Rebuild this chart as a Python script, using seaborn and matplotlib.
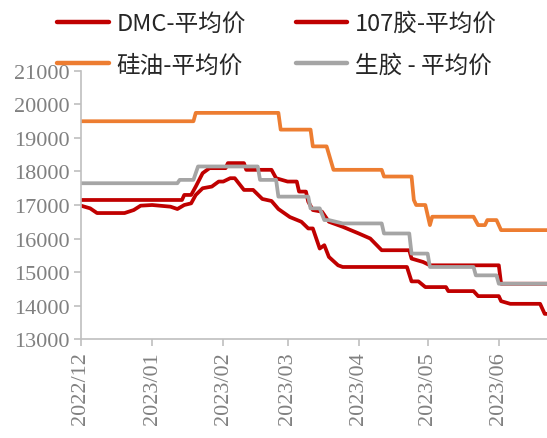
import matplotlib
matplotlib.use("Agg")
import matplotlib.pyplot as plt
import pandas as pd
import seaborn as sns

# ---- data ----
dmc_dates = ["2022-12-01", "2022-12-05", "2022-12-08", "2022-12-20", "2022-12-24", "2022-12-27",
             "2023-01-01", "2023-01-09", "2023-01-12", "2023-01-15", "2023-01-18", "2023-01-20",
             "2023-01-23", "2023-01-27", "2023-01-30", "2023-02-01", "2023-02-04", "2023-02-06",
             "2023-02-10", "2023-02-14", "2023-02-18", "2023-02-22", "2023-02-25", "2023-03-02",
             "2023-03-07", "2023-03-10", "2023-03-12", "2023-03-14", "2023-03-15", "2023-03-17",
             "2023-03-19", "2023-03-23", "2023-03-25", "2023-04-22", "2023-04-24", "2023-04-27",
             "2023-04-30", "2023-05-09", "2023-05-10", "2023-05-21", "2023-05-23", "2023-06-01",
             "2023-06-02", "2023-06-06", "2023-06-19", "2023-06-21", "2023-06-22"]
dmc_vals = [16980, 16900, 16760, 16760, 16850, 16980,
            17000, 16950, 16880, 17000, 17050, 17300,
            17500, 17550, 17700, 17700, 17800, 17800,
            17450, 17450, 17180, 17120, 16880, 16640,
            16500, 16300, 16300, 15900, 15700, 15800,
            15450, 15200, 15150, 15150, 14720, 14720,
            14550, 14550, 14430, 14430, 14280, 14280,
            14130, 14050, 14050, 13750, 13750]

g107_dates = ["2022-12-01", "2023-01-14", "2023-01-15", "2023-01-18", "2023-01-20", "2023-01-23",
              "2023-01-26", "2023-02-02", "2023-02-03", "2023-02-10", "2023-02-11", "2023-02-22",
              "2023-02-24", "2023-03-01", "2023-03-05", "2023-03-06", "2023-03-09", "2023-03-10",
              "2023-03-12", "2023-03-16", "2023-03-19", "2023-03-25", "2023-04-01", "2023-04-06",
              "2023-04-11", "2023-04-23", "2023-04-24", "2023-04-29", "2023-05-02", "2023-06-01",
              "2023-06-02", "2023-06-22"]
g107_vals = [17150, 17150, 17300, 17300, 17550, 17950,
             18100, 18100, 18250, 18250, 18050, 18050,
             17800, 17700, 17700, 17400, 17400, 17100,
             16850, 16800, 16500, 16350, 16150, 16000,
             15650, 15650, 15400, 15300, 15200, 15200,
             14650, 14650]

oil_dates = ["2022-12-01", "2023-01-19", "2023-01-20", "2023-02-25", "2023-02-26", "2023-03-11",
             "2023-03-12", "2023-03-18", "2023-03-21", "2023-04-11", "2023-04-12", "2023-04-24",
             "2023-04-25", "2023-04-26", "2023-04-30", "2023-05-02", "2023-05-03", "2023-05-21",
             "2023-05-23", "2023-05-26", "2023-05-27", "2023-05-31", "2023-06-02", "2023-06-22"]
oil_vals = [19500, 19500, 19750, 19750, 19250, 19250,
            18750, 18750, 18050, 18050, 17850, 17850,
            17150, 17000, 17000, 16400, 16650, 16650,
            16400, 16400, 16550, 16550, 16250, 16250]

raw_dates = ["2022-12-01", "2023-01-12", "2023-01-13", "2023-01-19", "2023-01-21", "2023-02-16",
             "2023-02-17", "2023-02-24", "2023-02-25", "2023-03-10", "2023-03-11", "2023-03-15",
             "2023-03-17", "2023-03-19", "2023-03-25", "2023-04-11", "2023-04-12", "2023-04-23",
             "2023-04-24", "2023-05-01", "2023-05-02", "2023-05-21", "2023-05-22", "2023-05-31",
             "2023-06-01", "2023-06-22"]
raw_vals = [17650, 17650, 17750, 17750, 18150, 18150,
            17750, 17750, 17250, 17250, 16900, 16900,
            16550, 16550, 16450, 16450, 16150, 16150,
            15550, 15550, 15150, 15150, 14900, 14900,
            14650, 14650]

labels = ["DMC-平均价", "107胶-平均价", "硅油-平均价", "生胶 - 平均价"]
colors = ["#C00000", "#C00000", "#ED7D31", "#A5A5A5"]
month_ticks = ["2022-12-01", "2023-01-01", "2023-02-01", "2023-03-01",
               "2023-04-01", "2023-05-01", "2023-06-01"]
month_labels = ["2022/12", "2023/01", "2023/02", "2023/03", "2023/04", "2023/05", "2023/06"]
y_ticks = [13000, 14000, 15000, 16000, 17000, 18000, 19000, 20000, 21000]

# ---- plot ----
sns.set_theme(style="white")
plt.rcParams['font.family'] = ['Noto Sans CJK SC', 'DejaVu Sans']

fig = plt.figure(figsize=(5.47, 4.39), dpi=100)
ax = fig.add_axes([0.148, 0.2255, 0.852, 0.6105])

series = [(oil_dates, oil_vals, 2), (dmc_dates, dmc_vals, 0),
          (g107_dates, g107_vals, 1), (raw_dates, raw_vals, 3)]
for d, v, idx in series:
    df = pd.DataFrame({"date": pd.to_datetime(d), "value": v})
    sns.lineplot(data=df, x="date", y="value", ax=ax, color=colors[idx],
                 linewidth=2.7, legend=False, estimator=None)

ax.set_xlim(pd.Timestamp("2022-12-01"), pd.Timestamp("2023-06-22"))
ax.set_ylim(13000, 21000)
tick_font = dict(family="Liberation Serif", size=16, color="#808080")
ax.set_yticks(y_ticks, labels=[str(t) for t in y_ticks], fontdict=tick_font)
ax.set_xticks(pd.to_datetime(month_ticks), labels=month_labels, fontdict=tick_font,
              rotation=90)
ax.set_xlabel("")
ax.set_ylabel("")

for s in ["top", "right"]:
    ax.spines[s].set_visible(False)
for s in ["left", "bottom"]:
    ax.spines[s].set_color("#BFBFBF")
    ax.spines[s].set_linewidth(1.2)

ax.tick_params(axis="both", which="major", direction="out", length=5, width=1.2,
               color="#BFBFBF", bottom=True, left=True)
ax.tick_params(axis="y", pad=3)
ax.tick_params(axis="x", pad=4)

order = [0, 2, 1, 3]
leg_handles = [plt.Line2D([], [], color=colors[i], linewidth=3.2) for i in order]
fig.legend(leg_handles, [labels[i] for i in order], ncol=2, frameon=False,
           loc="upper left", bbox_to_anchor=(0.105, 0.97),
           prop={"family": ["Noto Sans CJK SC", "DejaVu Sans"], "size": 17},
           handlelength=2.2, handletextpad=0.3, columnspacing=2.1,
           labelspacing=0.78, borderaxespad=0.0, borderpad=0.0)

fig.savefig("out.png", dpi=100)
